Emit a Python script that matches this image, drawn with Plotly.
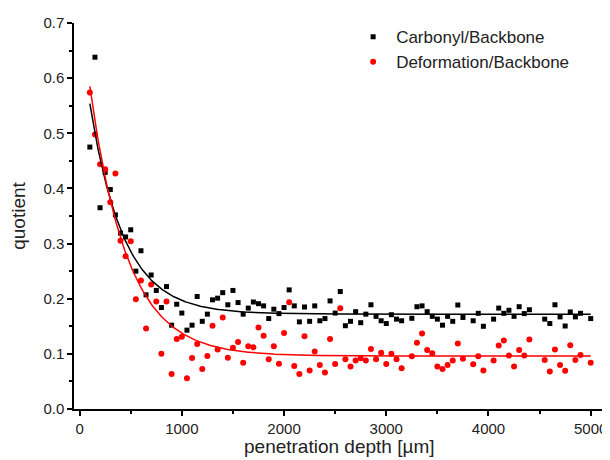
import numpy as np
import plotly.graph_objects as go

depth = [100, 150, 200, 250, 300, 350, 400, 450, 500, 550, 600, 650, 700, 750, 800, 850,
         900, 950, 1000, 1050, 1100, 1150, 1200, 1250, 1300, 1350, 1400, 1450, 1500, 1550,
         1600, 1650, 1700, 1750, 1800, 1850, 1900, 1950, 2000, 2050, 2100, 2150, 2200, 2250,
         2300, 2350, 2400, 2450, 2500, 2550, 2600, 2650, 2700, 2750, 2800, 2850, 2900, 2950,
         3000, 3050, 3100, 3150, 3250, 3300, 3350, 3400, 3450, 3500, 3550, 3600, 3650, 3700,
         3750, 3850, 3900, 3950, 4050, 4100, 4150, 4200, 4250, 4300, 4350, 4400, 4550, 4600,
         4650, 4700, 4750, 4800, 4850, 4900, 5000]

carbonyl = [0.475, 0.638, 0.365, 0.429, 0.398, 0.352, 0.319, 0.312, 0.325, 0.250, 0.287, 0.207,
            0.243, 0.215, 0.184, 0.222, 0.152, 0.190, 0.174, 0.143, 0.152, 0.204, 0.159, 0.172,
            0.198, 0.201, 0.211, 0.189, 0.215, 0.193, 0.172, 0.183, 0.194, 0.191, 0.187, 0.164,
            0.181, 0.173, 0.184, 0.216, 0.187, 0.158, 0.185, 0.159, 0.187, 0.160, 0.164, 0.196,
            0.174, 0.213, 0.151, 0.159, 0.1765, 0.1565, 0.172, 0.189, 0.168, 0.160, 0.155, 0.171,
            0.163, 0.160, 0.1645, 0.1855, 0.187, 0.1765, 0.168, 0.163, 0.152, 0.168, 0.159,
            0.1886, 0.166, 0.160, 0.1735, 0.150, 0.163, 0.183, 0.1735, 0.179, 0.168, 0.1855,
            0.173, 0.180, 0.163, 0.155, 0.189, 0.167, 0.1505, 0.176, 0.167, 0.1735, 0.164]

deformation = [0.574, 0.498, 0.444, 0.435, 0.375, 0.427, 0.305, 0.277, 0.304, 0.199, 0.233, 0.146,
               0.226, 0.195, 0.100, 0.195, 0.0635, 0.127, 0.131, 0.0556, 0.0925, 0.118, 0.0725,
               0.096, 0.151, 0.108, 0.166, 0.093, 0.111, 0.1215, 0.084, 0.114, 0.112, 0.148,
               0.133, 0.090, 0.114, 0.082, 0.138, 0.1935, 0.078, 0.0635, 0.132, 0.070, 0.1045,
               0.080, 0.066, 0.127, 0.0815, 0.1825, 0.090, 0.077, 0.088, 0.092, 0.088, 0.109,
               0.090, 0.102, 0.0815, 0.100, 0.090, 0.074, 0.0955, 0.120, 0.137, 0.107, 0.101,
               0.077, 0.0725, 0.080, 0.088, 0.119, 0.091, 0.081, 0.0955, 0.070, 0.088, 0.115,
               0.124, 0.097, 0.077, 0.107, 0.097, 0.126, 0.089, 0.068, 0.108, 0.080, 0.0695,
               0.1155, 0.089, 0.098, 0.084]

# exponential decay fit parameters: y = y0 + A * exp(-x / t)
fit_carbonyl = dict(y0=0.172, A=0.517, t=330.0)
fit_deformation = dict(y0=0.096, A=0.643, t=365.0)

x_tick_vals = [0, 1000, 2000, 3000, 4000, 5000]
y_tick_vals = [0.0, 0.1, 0.2, 0.3, 0.4, 0.5, 0.6, 0.7]

xf = np.linspace(depth[0], depth[-1], 400)
def decay(p):
    return p["y0"] + p["A"] * np.exp(-xf / p["t"])

FONT = "Liberation Sans, Arial, sans-serif"
TXT = "#222222"

fig = go.Figure()
fig.add_trace(go.Scatter(x=depth, y=carbonyl, mode="markers", name="Carbonyl/Backbone",
                         marker=dict(symbol="square", size=5, color="#000000")))
fig.add_trace(go.Scatter(x=depth, y=deformation, mode="markers", name="Deformation/Backbone",
                         marker=dict(symbol="circle", size=6, color="#ff0000")))
fig.add_trace(go.Scatter(x=xf, y=decay(fit_carbonyl), mode="lines", showlegend=False,
                         line=dict(color="#000000", width=1.5)))
fig.add_trace(go.Scatter(x=xf, y=decay(fit_deformation), mode="lines", showlegend=False,
                         line=dict(color="#ff0000", width=1.5)))

axis_common = dict(showline=True, linecolor="black", linewidth=1.5, ticks="outside",
                   ticklen=5, tickwidth=1.5, tickcolor="black", showgrid=False,
                   zeroline=False, mirror=False, automargin=False,
                   tickfont=dict(family=FONT, size=15, color=TXT))

fig.update_xaxes(range=[-55, 5130], tickvals=x_tick_vals, ticklabeloverflow="allow",
                 minor=dict(ticks="outside", ticklen=3, tickwidth=1.5, tickcolor="black",
                            dtick=500, tick0=0),
                 **axis_common)
fig.update_yaxes(range=[0, 0.7], tickvals=y_tick_vals, tickformat=".1f",
                 minor=dict(ticks="outside", ticklen=3, tickwidth=1.5, tickcolor="black",
                            dtick=0.05, tick0=0),
                 title=dict(text="quotient", standoff=15,
                            font=dict(family=FONT, size=19, color=TXT)),
                 **axis_common)

fig.add_annotation(text="penetration depth [µm]", xref="paper", yref="paper",
                   x=0.5, y=-0.098, xanchor="center", yanchor="middle", showarrow=False,
                   font=dict(family=FONT, size=19, color=TXT))

# the page body adds an 8 px margin, so the figure is 8 px smaller on each axis
fig.update_layout(
    width=602, height=452,
    margin=dict(l=66, r=6, t=15, b=51, autoexpand=False),
    paper_bgcolor="white", plot_bgcolor="white",
    font=dict(family=FONT, color=TXT),
    legend=dict(x=0.521, y=1.010, xanchor="left", yanchor="top", itemwidth=36,
                bgcolor="rgba(0,0,0,0)", font=dict(family=FONT, size=17, color=TXT),
                tracegroupgap=0),
)

fig.write_html("out.html")
